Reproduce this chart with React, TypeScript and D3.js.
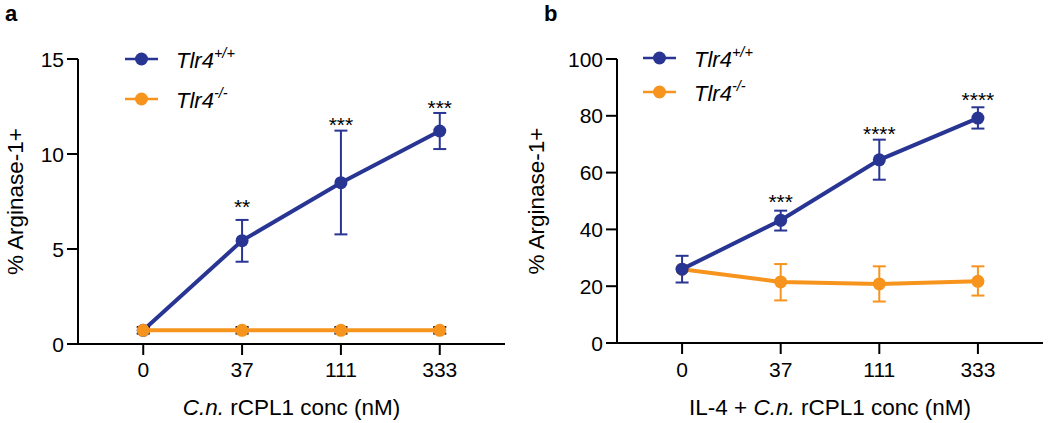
import React from "react";
import * as d3 from "d3";

const categories = ["0", "37", "111", "333"];

// Panel a
const aWtMean = [0.72, 5.44, 8.49, 11.21];
const aWtLow = [0.72, 4.33, 5.77, 10.26];
const aWtHigh = [0.72, 6.53, 11.23, 12.16];
const aKoMean = [0.72, 0.72, 0.72, 0.72];
const aKoLow = [0.55, 0.55, 0.55, 0.55];
const aKoHigh = [0.89, 0.89, 0.89, 0.89];
const aStars = ["", "**", "***", "***"];
const aStarPos = [0, 7.42, 11.75, 12.63];
const aYTicks = [0, 5, 10, 15];

// Panel b
const bWtMean = [26.0, 43.2, 64.5, 79.2];
const bWtLow = [21.3, 39.6, 57.5, 75.5];
const bWtHigh = [30.7, 46.6, 71.6, 83.0];
const bKoMean = [26.0, 21.5, 20.8, 21.7];
const bKoLow = [26.0, 15.0, 14.6, 16.7];
const bKoHigh = [26.0, 27.8, 27.0, 27.0];
const bStars = ["", "***", "****", "****"];
const bStarPos = [0, 51.1, 75.1, 87.1];
const bYTicks = [0, 20, 40, 60, 80, 100];

const legendLabels = ["+/+", "-/-"];

const BLUE = "#283593";
const ORANGE = "#F7941E";
const FONT = "Arial, 'Liberation Sans', Helvetica, sans-serif";

type Series = { mean: number[]; low: number[]; high: number[]; color: string; capColor: string };

function Panel(props: {
  label: string;
  labelX: number;
  x0: number;
  x1: number;
  yTop: number;
  yBottom: number;
  yMax: number;
  yTicks: number[];
  ylabelX: number;
  series: Series[];
  stars: string[];
  starPos: number[];
  xTitle: React.ReactNode;
  legendX: number;
  legendY: number[];
}) {
  const x = d3.scalePoint<string>().domain(categories).range([props.x0, props.x1]).padding(0.66);
  const y = d3.scaleLinear().domain([0, props.yMax]).range([props.yBottom, props.yTop]);
  const line = d3
    .line<number>()
    .x((_, i) => x(categories[i]) as number)
    .y((d) => y(d));
  const xMid = (props.x0 + props.x1) / 2;
  const yMid = (props.yTop + props.yBottom) / 2;
  return (
    <g fontFamily={FONT}>
      <text x={props.labelX} y={21} fontSize={22} fontWeight="bold">
        {props.label}
      </text>
      <line x1={props.x0} x2={props.x0} y1={props.yTop} y2={props.yBottom + 1} stroke="#000" strokeWidth={2} />
      <line x1={props.x0 - 1} x2={props.x1} y1={props.yBottom} y2={props.yBottom} stroke="#000" strokeWidth={2} />
      {props.yTicks.map((t) => (
        <g key={t}>
          <line x1={props.x0 - 11} x2={props.x0} y1={y(t)} y2={y(t)} stroke="#000" strokeWidth={2} />
          <text x={props.x0 - 14} y={y(t) + 7.5} fontSize={21} textAnchor="end">
            {t}
          </text>
        </g>
      ))}
      {categories.map((c) => (
        <g key={c}>
          <line x1={x(c)} x2={x(c)} y1={props.yBottom} y2={props.yBottom + 11} stroke="#000" strokeWidth={2} />
          <text x={x(c)} y={377} fontSize={21} textAnchor="middle">
            {c}
          </text>
        </g>
      ))}
      <text x={xMid} y={415} fontSize={22.5} textAnchor="middle">
        {props.xTitle}
      </text>
      <text transform={`translate(${props.ylabelX},${yMid}) rotate(-90)`} fontSize={22.5} textAnchor="middle">
        % Arginase-1+
      </text>
      {props.series.map((s, si) => (
        <g key={si}>
          <path d={line(s.mean) || ""} fill="none" stroke={s.color} strokeWidth={4} />
          {categories.map((c, i) => {
            const cx = x(c) as number;
            if (s.high[i] === s.low[i]) return null;
            return (
              <g key={c} stroke={s.capColor} strokeWidth={2}>
                <line x1={cx} x2={cx} y1={y(s.high[i])} y2={y(s.low[i])} />
                <line x1={cx - 6.5} x2={cx + 6.5} y1={y(s.high[i])} y2={y(s.high[i])} />
                <line x1={cx - 6.5} x2={cx + 6.5} y1={y(s.low[i])} y2={y(s.low[i])} />
              </g>
            );
          })}
          {categories.map((c, i) => (
            <circle key={c} cx={x(c)} cy={y(s.mean[i])} r={6.5} fill={s.color} />
          ))}
        </g>
      ))}
      {props.stars.map((st, i) =>
        st ? (
          <text key={i} x={x(categories[i])} y={y(props.starPos[i]) + 11} fontSize={21} textAnchor="middle">
            {st}
          </text>
        ) : null
      )}
      {[BLUE, ORANGE].map((color, i) => (
        <g key={i}>
          <line
            x1={props.legendX}
            x2={props.legendX + 33}
            y1={props.legendY[i]}
            y2={props.legendY[i]}
            stroke={color}
            strokeWidth={2.5}
          />
          <circle cx={props.legendX + 16.5} cy={props.legendY[i]} r={6.5} fill={color} />
          <text x={props.legendX + 51} y={props.legendY[i] + 9} fontSize={22} fontStyle="italic">
            Tlr4
            <tspan fontSize={14.5} dy={-10}>
              {legendLabels[i]}
            </tspan>
          </text>
        </g>
      ))}
    </g>
  );
}

export default function App() {
  return (
    <svg
      width={1050}
      height={423}
      viewBox="0 0 1050 423"
      style={{ position: "absolute", left: 0, top: 0, background: "#fff" }}
    >
      <rect width={1050} height={423} fill="#fff" />
      <Panel
        label="a"
        labelX={5}
        x0={78}
        x1={505}
        yTop={59}
        yBottom={344}
        yMax={15}
        yTicks={aYTicks}
        ylabelX={23}
        series={[
          { mean: aWtMean, low: aWtLow, high: aWtHigh, color: BLUE, capColor: BLUE },
          { mean: aKoMean, low: aKoLow, high: aKoHigh, color: ORANGE, capColor: "#000" },
        ]}
        stars={aStars}
        starPos={aStarPos}
        xTitle={
          <>
            <tspan fontStyle="italic">C.n.</tspan> rCPL1 conc (nM)
          </>
        }
        legendX={125}
        legendY={[59, 99]}
      />
      <Panel
        label="b"
        labelX={544}
        x0={617}
        x1={1043}
        yTop={59}
        yBottom={343}
        yMax={100}
        yTicks={bYTicks}
        ylabelX={544}
        series={[
          { mean: bKoMean, low: bKoLow, high: bKoHigh, color: ORANGE, capColor: ORANGE },
          { mean: bWtMean, low: bWtLow, high: bWtHigh, color: BLUE, capColor: BLUE },
        ]}
        stars={bStars}
        starPos={bStarPos}
        xTitle={
          <>
            IL-4 + <tspan fontStyle="italic">C.n.</tspan> rCPL1 conc (nM)
          </>
        }
        legendX={643}
        legendY={[58, 92]}
      />
    </svg>
  );
}
